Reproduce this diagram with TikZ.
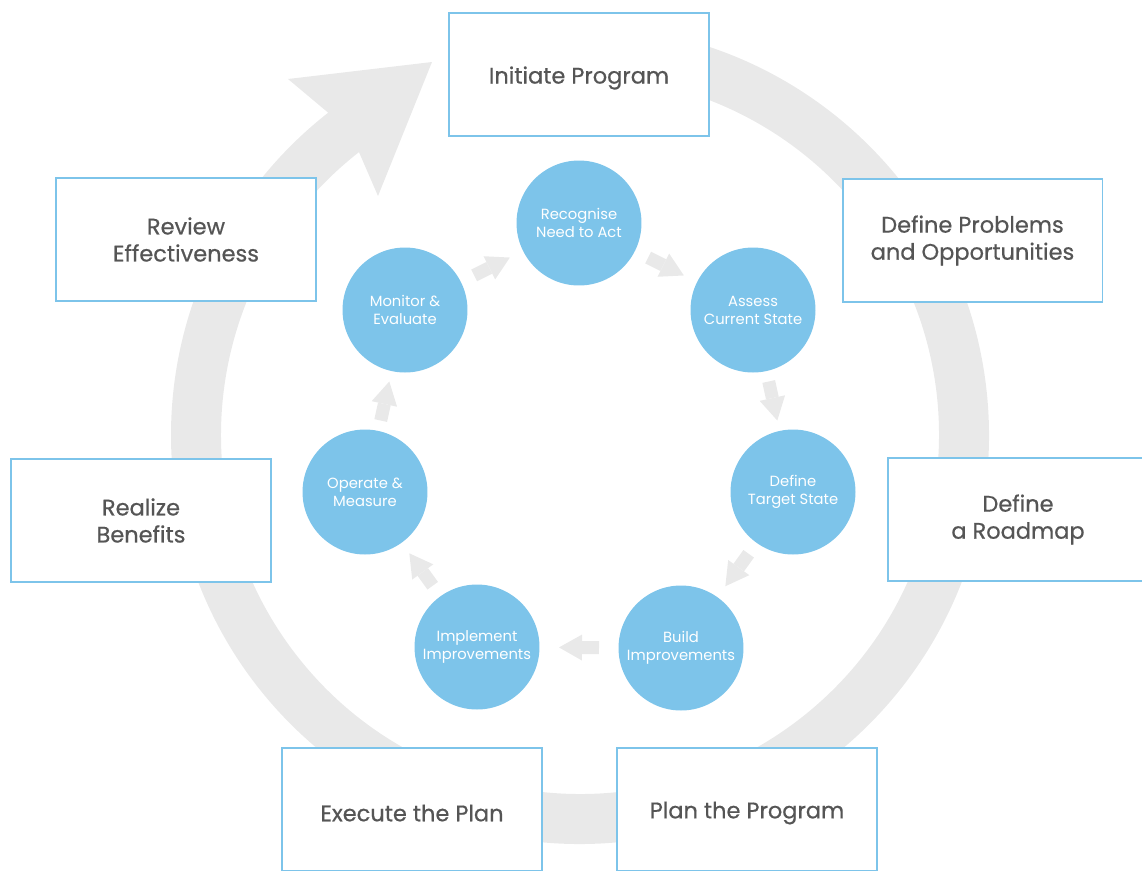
\documentclass[tikz,border=0pt]{standalone}
\usepackage{fontspec}
\setmainfont{Poppins}
\newfontfamily\phasefont{Poppins}[FakeBold=0.6]
\usetikzlibrary{arrows.meta,calc}
\definecolor{stepblue}{RGB}{125,196,234}
\definecolor{ringgrey}{RGB}{233,233,233}
\definecolor{textgrey}{RGB}{85,85,85}
\tikzset{
	phase/.style={
		rectangle,
		draw=stepblue,
		line width=1.1pt,
		fill=white,
		minimum width=5.2cm,
		minimum height=2.46cm,
		align=center,
		text=textgrey,
		font=\phasefont\fontsize{12.8}{15.4}\selectfont,
	},
	activity/.style={
		circle,
		fill=stepblue,
		minimum size=2.5cm,
		inner sep=0pt,
		align=center,
		text=white,
		font=\fontsize{8.4}{10.3}\selectfont,
	},
	flow/.style={
		draw=ringgrey,
		line width=0.26cm,
		-{Triangle[width=0.52cm,length=0.46cm,line width=0pt]},
	},
}
\begin{document}
\begin{tikzpicture}[x=0.02cm,y=-0.02cm]
	\path[use as bounding box,clip] (0,0) rectangle (1142,870);
	\coordinate (hub) at (580,435);

	% big cycle behind the phases
	\fill[ringgrey] ($(hub)+(-95:409)$) arc[start angle=-95,end angle=232,radius=409]
		-- (288,79) -- (432,62) -- (378,196) -- ($(hub)+(232:359)$)
		arc[start angle=232,end angle=-95,radius=359] -- cycle;

	% phases
	\node[phase] (initiate) at (579,74.5) {\raisebox{-2pt}[\height][\depth]{Initiate Program}};
	\node[phase] (problems) at (972.5,240.5) {Define Problems\\and Opportunities};
	\node[phase] (roadmap) at (1018,519.5) {Define\\a Roadmap};
	\node[phase] (plan) at (747,809.5) {\raisebox{-2pt}[\height][\depth]{Plan the Program}};
	\node[phase] (execute) at (412,809.5) {\raisebox{-2pt}[\height][\depth]{Execute the Plan}};
	\node[phase] (benefits) at (141,520.5) {Realize\\Benefits};
	\node[phase] (review) at (186,239.5) {Review\\Effectiveness};

	% inner activities
	\node[activity] (recognise) at (579,223) {Recognise\\Need to Act};
	\node[activity] (assess) at (753,310) {Assess\\Current State};
	\node[activity] (target) at (793,492) {Define\\Target State};
	\node[activity] (build) at (681,648) {Build\\Improvements};
	\node[activity] (implement) at (477,647) {Implement\\Improvements};
	\node[activity] (operate) at (365,492) {Operate \&\\Measure};
	\node[activity] (monitor) at (405,310) {Monitor \&\\Evaluate};

	\draw[flow] ($(recognise)!0.5!(assess)!0.4cm!(recognise)$) -- ($(recognise)!0.5!(assess)!0.4cm!(assess)$);
	\draw[flow] ($(assess)!0.5!(target)!0.4cm!(assess)$) -- ($(assess)!0.5!(target)!0.4cm!(target)$);
	\draw[flow] ($(target)!0.5!(build)!0.4cm!(target)$) -- ($(target)!0.5!(build)!0.4cm!(build)$);
	\draw[flow] ($(build)!0.5!(implement)!0.4cm!(build)$) -- ($(build)!0.5!(implement)!0.4cm!(implement)$);
	\draw[flow] ($(implement)!0.5!(operate)!0.4cm!(implement)$) -- ($(implement)!0.5!(operate)!0.4cm!(operate)$);
	\draw[flow] ($(operate)!0.5!(monitor)!0.4cm!(operate)$) -- ($(operate)!0.5!(monitor)!0.4cm!(monitor)$);
	\draw[flow] ($(monitor)!0.5!(recognise)!0.4cm!(monitor)$) -- ($(monitor)!0.5!(recognise)!0.4cm!(recognise)$);
\end{tikzpicture}
\end{document}
